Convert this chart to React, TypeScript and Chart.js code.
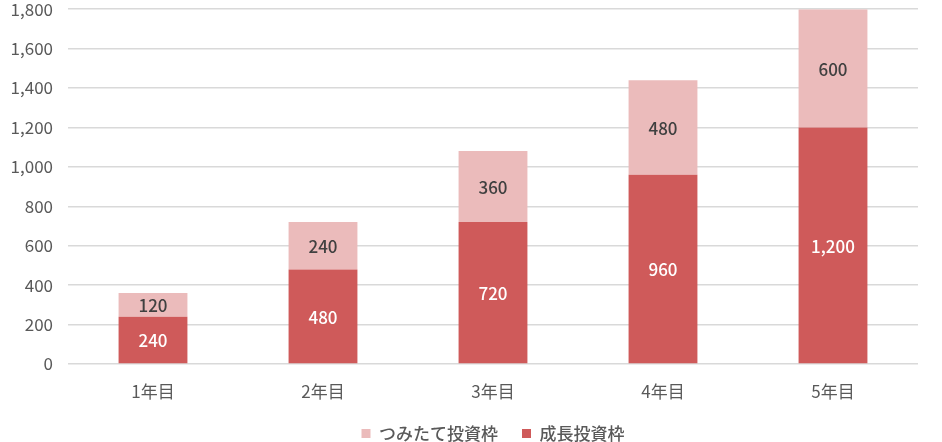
import React, { useEffect, useRef } from "react";
import { Chart, registerables } from "chart.js";

Chart.register(...registerables);

const categories = ["1年目", "2年目", "3年目", "4年目", "5年目"];
const growthValues = [240, 480, 720, 960, 1200];
const tsumitateValues = [120, 240, 360, 480, 600];
const growthLabel = "成長投資枠";
const tsumitateLabel = "つみたて投資枠";
const yMax = 1800;
const yStep = 200;

const FONT = '"Noto Sans CJK JP", "Noto Sans", sans-serif';
const SHIFT = 16;
const CANVAS_H = 468;

const dataLabelPlugin = {
  id: "dataLabels",
  afterDatasetsDraw(chart: any) {
    const ctx = chart.ctx;
    ctx.save();
    ctx.font = `500 17px ${FONT}`;
    ctx.textAlign = "center";
    ctx.textBaseline = "middle";
    chart.data.datasets.forEach((ds: any, di: number) => {
      const meta = chart.getDatasetMeta(di);
      meta.data.forEach((bar: any, i: number) => {
        const v = ds.data[i];
        const p = bar.getProps(["x", "y", "base"], true);
        ctx.fillStyle = di === 0 ? "#ffffff" : "#404040";
        const s = Number(v).toLocaleString("en-US");
        ctx.fillText(s, p.x, (p.y + p.base) / 2 + 1);
      });
    });
    ctx.restore();
  },
};

export default function App() {
  const ref = useRef<HTMLCanvasElement | null>(null);
  useEffect(() => {
    const chart = new Chart(ref.current as HTMLCanvasElement, {
      type: "bar",
      data: {
        labels: categories,
        datasets: [
          {
            label: growthLabel,
            data: growthValues,
            backgroundColor: "#CF5A5A",
            categoryPercentage: 1,
            barPercentage: 0.405,
          },
          {
            label: tsumitateLabel,
            data: tsumitateValues,
            backgroundColor: "#EBBBBB",
            categoryPercentage: 1,
            barPercentage: 0.405,
          },
        ],
      },
      options: {
        animation: false,
        responsive: false,
        maintainAspectRatio: false,
        layout: { padding: { top: 0, right: 24, left: 0, bottom: 0 } },
        plugins: {
          legend: {
            position: "bottom",
            fullSize: false,
            reverse: true,
            labels: {
              boxWidth: 9,
              boxHeight: 9,
              color: "#595959",
              font: { family: FONT, size: 17, weight: "500" },
              padding: 24,
            },
          },
          tooltip: { enabled: false },
        },
        scales: {
          x: {
            stacked: true,
            grid: { display: false, drawTicks: false },
            border: { display: false },
            ticks: {
              color: "#595959",
              font: { family: FONT, size: 17 },
              padding: 17.5,
            },
            afterFit: (s: any) => {
              s.height = 37;
            },
          },
          y: {
            stacked: true,
            min: 0,
            max: yMax,
            grid: { color: "#D9D9D9", lineWidth: 1.5, drawTicks: false },
            border: { display: false },
            ticks: {
              stepSize: yStep,
              color: "#595959",
              font: { family: FONT, size: 17 },
              padding: 15,
            },
            afterFit: (s: any) => {
              s.width = 68;
            },
          },
        },
      },
      plugins: [dataLabelPlugin],
    });
    return () => chart.destroy();
  }, []);
  return (
    <div
      style={{
        position: "fixed",
        left: 0,
        top: 0,
        width: 942,
        height: 442,
        overflow: "hidden",
        background: "#fff",
      }}
    >
      <canvas
        ref={ref}
        width={942}
        height={CANVAS_H}
        style={{ position: "absolute", left: 0, top: -SHIFT, width: 942, height: CANVAS_H }}
      />
    </div>
  );
}
